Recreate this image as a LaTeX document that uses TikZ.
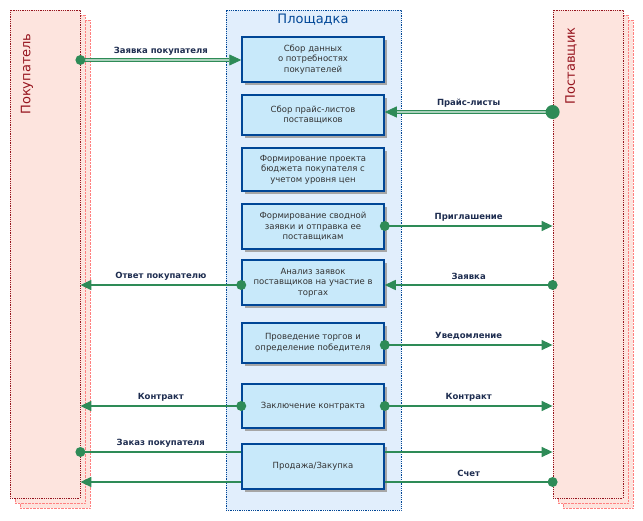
\documentclass[tikz,border=0pt]{standalone}
\usepackage{fontspec}
\setmainfont{DejaVu Sans}
\usetikzlibrary{arrows.meta,calc,positioning}
\definecolor{flow}{RGB}{46,139,87}
\definecolor{pinkfill}{RGB}{253,228,222}
\definecolor{darkred}{RGB}{150,20,30}
\definecolor{boxfill}{RGB}{200,233,250}
\definecolor{boxline}{RGB}{0,70,150}
\definecolor{areafill}{RGB}{225,238,252}
\definecolor{lbltext}{RGB}{30,45,80}
\tikzset{
  party/.style={draw=darkred, densely dotted, thick, fill=pinkfill, minimum width=70pt, minimum height=488pt, inner sep=0pt},
  ghost/.style={draw=red!50, densely dotted, fill=pinkfill, minimum width=70pt, minimum height=488pt},
  stage/.style={draw=boxline, line width=1.5pt, fill=boxfill, minimum width=142pt, align=center,
    font=\fontsize{8.5}{10.5}\selectfont, text=black!80, inner sep=1pt},
  flowline/.style={draw=flow, line width=1.5pt},
  tip/.style={-{Triangle[length=11pt,width=10pt]}},
  lbl/.style={font=\bfseries\fontsize{8.5}{10}\selectfont, text=lbltext, above=1pt},
  dot/.style={circle, fill=flow, inner sep=0pt, minimum size=#1},
  dot/.default=10pt
}
\begin{document}
\begin{tikzpicture}[x=1pt, y=-1pt, >=Stealth]
  \useasboundingbox (0,0) rectangle (643,521);
  % participants
  \node[ghost] at (55,264) {};
  \node[ghost] at (50,259) {};
  \node[party] (buyer) at (45,254) {};
  \node[rotate=90, text=darkred, font=\fontsize{13}{15}\selectfont] at (27,74) {Покупатель};
  \node[ghost] at (598,264) {};
  \node[ghost] at (593,259) {};
  \node[party] (seller) at (588,254) {};
  \node[rotate=90, text=darkred, font=\fontsize{13}{15}\selectfont] at (571,66) {Поставщик};
  % platform
  \node[draw=boxline, densely dotted, thick, fill=areafill, minimum width=175pt, minimum height=500pt] (area) at (313.5,260) {};
  \node[text=boxline, font=\fontsize{13}{15}\selectfont] at (313,20) {Площадка};
  % stages
  \foreach \n/\y/\h/\t in {
      b1/59.5/45/{Сбор данных\\о потребностях\\покупателей},
      b2/115/40/{Сбор прайс-листов\\поставщиков},
      b3/169.5/43/{Формирование проекта\\бюджета покупателя с\\учетом уровня цен},
      b4/226.5/45/{Формирование сводной\\заявки и отправка ее\\поставщикам},
      b5/282.5/45/{Анализ заявок\\поставщиков на участие в\\торгах},
      b6/343/40/{Проведение торгов и\\определение победителя},
      b7/406/44/{Заключение контракта},
      b8/466.5/45/{Продажа/Закупка}} {
    \fill[black!35] (242+3,\y-\h/2+3) rectangle (384+3,\y+\h/2+3);
    \node[stage, minimum height=\h pt] (\n) at (313,\y) {\t};
  }
  % flows
  \coordinate (bIn1) at (buyer.east |- 0,60);
  \coordinate (sIn2) at (seller.west |- 0,112);
  \draw[flow, line width=0.8pt, double=flow!40, double distance=1.6pt, -{Triangle[length=12pt,width=11pt]}] (bIn1) -- (b1.west |- bIn1) node[lbl, midway] {Заявка покупателя};
  \node[dot] at (bIn1) {};
  \draw[flow, line width=0.8pt, double=flow!40, double distance=1.6pt, -{Triangle[length=12pt,width=11pt]}] (sIn2) -- (b2.east |- sIn2) node[lbl, midway] {Прайс-листы};
  \node[dot=14pt] at (sIn2) {};
  \draw[flowline, tip, flow] (b4.east |- 0,226) -- (seller.west |- 0,226) node[lbl, midway] {Приглашение};
  \node[dot] at (b4.east |- 0,226) {};
  \draw[flowline, tip, flow] (seller.west |- 0,285) -- (b5.east |- 0,285) node[lbl, midway] {Заявка};
  \node[dot] at (seller.west |- 0,285) {};
  \draw[flowline, tip, flow] (b5.west |- 0,285) -- (buyer.east |- 0,285) node[lbl, midway] {Ответ покупателю};
  \node[dot] at (b5.west |- 0,285) {};
  \draw[flowline, tip, flow] (b6.east |- 0,345) -- (seller.west |- 0,345) node[lbl, midway] {Уведомление};
  \node[dot] at (b6.east |- 0,345) {};
  \draw[flowline, tip, flow] (b7.west) -- (buyer.east |- b7.west) node[lbl, midway] {Контракт};
  \draw[flowline, tip, flow] (b7.east) -- (seller.west |- b7.east) node[lbl, midway] {Контракт};
  \node[dot] at (b7.west) {};
  \node[dot] at (b7.east) {};
  \draw[flowline] (buyer.east |- 0,452) -- (b8.west |- 0,452) node[lbl, midway] {Заказ покупателя};
  \node[dot] at (buyer.east |- 0,452) {};
  \draw[flowline, tip, flow] (b8.east |- 0,452) -- (seller.west |- 0,452);
  \draw[flowline] (seller.west |- 0,482) -- (b8.east |- 0,482) node[lbl, midway] {Счет};
  \node[dot] at (seller.west |- 0,482) {};
  \draw[flowline, tip, flow] (b8.west |- 0,482) -- (buyer.east |- 0,482);
\end{tikzpicture}
\end{document}
